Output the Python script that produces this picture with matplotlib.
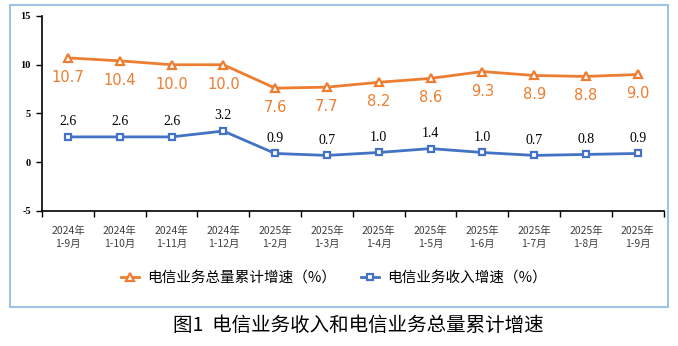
import numpy as np
import matplotlib.pyplot as plt
from matplotlib.patches import Rectangle

plt.rcParams['font.family'] = ['Noto Sans CJK SC', 'DejaVu Sans']

months = ['2024年\n1-9月', '2024年\n1-10月', '2024年\n1-11月', '2024年\n1-12月',
          '2025年\n1-2月', '2025年\n1-3月', '2025年\n1-4月', '2025年\n1-5月',
          '2025年\n1-6月', '2025年\n1-7月', '2025年\n1-8月', '2025年\n1-9月']
volume = [10.7, 10.4, 10.0, 10.0, 7.6, 7.7, 8.2, 8.6, 9.3, 8.9, 8.8, 9.0]
revenue = [2.6, 2.6, 2.6, 3.2, 0.9, 0.7, 1.0, 1.4, 1.0, 0.7, 0.8, 0.9]
yticks = [-5, 0, 5, 10, 15]

orange = '#ED7D31'
blue = '#4472C4'

fig = plt.figure(figsize=(6.78, 3.46), dpi=100)
ax = fig.add_axes([0.062, 0.3902, 0.9168, 0.5636])

x = np.arange(len(months))
ax.plot(x, volume, color=orange, lw=2, marker='^', ms=6, mfc='white',
        mec=orange, mew=1.6, label='电信业务总量累计增速（%）')
ax.plot(x, revenue, color=blue, lw=2, marker='s', ms=5, mfc='white',
        mec=blue, mew=1.6, label='电信业务收入增速（%）')

for xi, v in zip(x, volume):
    ax.annotate(f'{v:.1f}', (xi, v), xytext=(0, -14), textcoords='offset points',
                ha='center', va='center', color=orange, fontsize=10.5,
                family='DejaVu Sans')
for xi, v in zip(x, revenue):
    ax.annotate(f'{v:.1f}', (xi, v), xytext=(0, 11), textcoords='offset points',
                ha='center', va='center', color='black', fontsize=10,
                family='Liberation Serif')

ax.set_xlim(-0.5, 11.5)
ax.set_ylim(-5, 15)
ax.set_yticks(yticks)
ax.set_yticklabels([str(t) for t in yticks], family='Liberation Serif',
                   fontsize=7.5, fontweight='bold')
ax.set_xticks(np.arange(-0.5, 12, 1), minor=False)
ax.set_xticklabels([])
ax.set_xticks(x, minor=True)
ax.set_xticklabels(months, minor=True, fontsize=7.5, color='#404040',
                   linespacing=1.3)
ax.tick_params(axis='x', which='minor', length=0, pad=11)
ax.tick_params(axis='x', which='major', length=4, direction='out', width=1)
ax.tick_params(axis='y', length=4, width=1, pad=4)

for s in ['top', 'right']:
    ax.spines[s].set_visible(False)
ax.spines['left'].set_linewidth(1.2)
ax.spines['bottom'].set_linewidth(1.2)

fig.legend(loc='center', bbox_to_anchor=(0.493, 0.197), ncol=2, frameon=False,
           fontsize=10.5, handlelength=1.2, columnspacing=1.7, handletextpad=0.6)

fig.patches.append(Rectangle((10 / 678, 1 - 307 / 346), 658 / 678, 302 / 346,
                             transform=fig.transFigure, fill=False,
                             ec='#9DC3E6', lw=1.5))
fig.text(358 / 678, 1 - 325 / 346, '图1  电信业务收入和电信业务总量累计增速',
         ha='center', va='center', fontsize=14)

fig.savefig('out.png', dpi=100)
